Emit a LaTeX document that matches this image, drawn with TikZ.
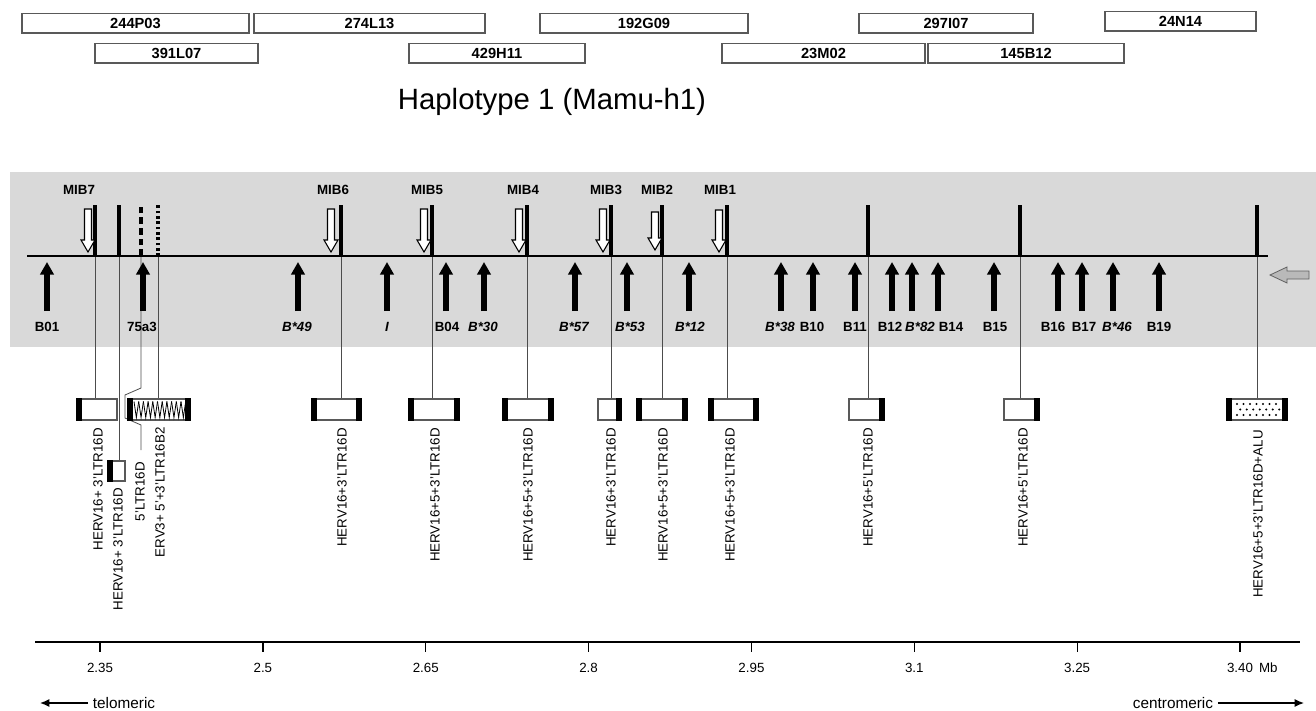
\documentclass[tikz,border=0pt]{standalone}
\usepackage{fontspec}
\setmainfont{Liberation Sans}
\usetikzlibrary{arrows.meta, positioning}
\tikzset{
    clone/.style={rectangle, draw=black!65, line width=1pt, fill=white, minimum height=14.5pt, inner sep=0pt, font=\fontsize{11}{13}\selectfont\bfseries},
    ervbox/.style={rectangle, draw=black!65, line width=0.8pt, fill=white, minimum height=15.75pt, inner sep=0pt},
    genearrow/.style={line width=4pt, -{Triangle[length=9.5pt, width=10pt]}},
    hervbar/.style={line width=2.4pt},
    link/.style={draw=black!70, line width=0.6pt},
    glabel/.style={font=\fontsize{10}{12}\selectfont\bfseries, inner sep=1pt},
    miblabel/.style={font=\fontsize{10}{12}\selectfont\bfseries, inner sep=1pt},
    ervlabel/.style={rotate=90, anchor=east, inner sep=0pt, font=\fontsize{10}{12}\selectfont},
    ticklabel/.style={font=\fontsize{10}{12}\selectfont},
}
\newcommand{\leftend}[1]{\fill (#1.north west) rectangle ([xshift=4pt]#1.south west);}
\newcommand{\rightend}[1]{\fill ([xshift=-4pt]#1.north east) rectangle (#1.south east);}
\newcommand{\hollowdown}[3]{\draw[line width=0.8pt, fill=white] (#1-3.5,#2) -- (#1+3.5,#2) -- (#1+3.5,#3-12) -- (#1+7,#3-12) -- (#1,#3) -- (#1-7,#3-12) -- (#1-3.5,#3-12) -- cycle;}

\begin{document}
\begin{tikzpicture}[x=0.75pt, y=-0.75pt]
    \useasboundingbox (0,0) rectangle (1316,710);

    % BAC clones
    \node[clone, minimum width=227*0.75pt] (c244) at (135.5,23.5) {244P03};
    \node[clone, minimum width=231*0.75pt] (c274) at (369.5,23.5) {274L13};
    \node[clone, minimum width=208*0.75pt] (c192) at (644,23.5) {192G09};
    \node[clone, minimum width=174*0.75pt] (c297) at (946,23.5) {297I07};
    \node[clone, minimum width=151*0.75pt] (c24) at (1180.5,21.5) {24N14};
    \node[clone, minimum width=163*0.75pt] (c391) at (176.5,53.5) {391L07};
    \node[clone, minimum width=176*0.75pt] (c429) at (497,53.5) {429H11};
    \node[clone, minimum width=203*0.75pt] (c23) at (823.5,53.5) {23M02};
    \node[clone, minimum width=196*0.75pt] (c145) at (1026,53.5) {145B12};

    \node[font=\fontsize{22}{26}\selectfont] (title) at (552,102) {Haplotype 1 (Mamu-h1)};

    \fill[gray!30] (10,172) rectangle (1316,347);

    % HERV positions on the map
    \foreach \x/\nm in {95/m7, 119/s1, 141/s2, 158/s3, 341/m6, 432/m5, 527/m4, 611/m3, 662/m2, 727/m1, 868/h1, 1020/h2, 1257/h3}
        \coordinate (bar-\nm) at (\x,256);

    % links down to the elements
    \draw[link] (bar-m7) -- (bar-m7 |- 0,399);
    \draw[link] (bar-s1) -- (bar-s1 |- 0,461);
    \coordinate (ltr5end) at (141,450);
    \draw[link] (bar-s2) -- (141,388) -- (125,395) -- (125,418) -- (141,425) -- (ltr5end);
    \foreach \nm in {s3, m6, m5, m4, m3, m2, m1, h1, h2, h3}
        \draw[link] (bar-\nm) -- (bar-\nm |- 0,399);

    \coordinate (chrL) at (27,256);
    \coordinate (chrR) at (1268,256);
    \draw[line width=2.2pt] (chrL) -- (chrR);

    \foreach \nm in {m7, s1, m6, m5, m4, m3, m2, m1, h1, h2, h3}
        \draw[hervbar] (bar-\nm) -- ++(0,-51);
    \draw[hervbar, dash pattern=on 5pt off 3pt] (bar-s2) -- ++(0,-51);
    \draw[hervbar, dash pattern=on 2pt off 2pt] (bar-s3) -- ++(0,-51);

    % MIB microsatellites
    \hollowdown{88}{209}{252}
    \hollowdown{331}{209}{252}
    \hollowdown{424}{209}{252}
    \hollowdown{519}{209}{252}
    \hollowdown{603}{209}{252}
    \hollowdown{655}{212}{250}
    \hollowdown{719}{210}{252}
    \node[miblabel] (mib7) at (79,190) {MIB7};
    \node[miblabel] (mib6) at (333,190) {MIB6};
    \node[miblabel] (mib5) at (427,190) {MIB5};
    \node[miblabel] (mib4) at (523,190) {MIB4};
    \node[miblabel] (mib3) at (606,190) {MIB3};
    \node[miblabel] (mib2) at (657,190) {MIB2};
    \node[miblabel] (mib1) at (720,190) {MIB1};

    % genes
    \foreach \x/\lx/\lab/\nm in {47/47/B01/b01, 143/142/75a3/a75, 298/297/{\itshape B*49}/b49, 387/387/{\itshape I}/bi,
            446/447/B04/b04, 484/483/{\itshape B*30}/b30, 575/574/{\itshape B*57}/b57, 627/630/{\itshape B*53}/b53,
            689/690/{\itshape B*12}/bs12, 781/780/{\itshape B*38}/b38, 813/812/B10/b10, 855/855/B11/b11,
            892/890/B12/b12, 912/920/{\itshape B*82}/b82, 938/951/B14/b14, 994/995/B15/b15,
            1058/1053/B16/b16, 1082/1084/B17/b17, 1113/1117/{\itshape B*46}/b46, 1159/1159/B19/b19} {
        \coordinate (tail-\nm) at (\x,311);
        \draw[genearrow] (tail-\nm) -- (\x,262);
        \node[glabel] (lab-\nm) at (\lx,327) {\lab};
    }

    % orientation
    \draw[fill=gray!55, draw=gray!75!black, line width=0.6pt] (1270,275) -- (1287,267) -- (1287,271) -- (1309,271)
        -- (1309,279) -- (1287,279) -- (1287,283) -- cycle;

    % elements
    \node[ervbox, minimum width=40*0.75pt] (e-m7) at (97,409.5) {}; \leftend{e-m7}
    \node[ervbox, minimum width=17*0.75pt, minimum height=15pt] (e-s1) at (116.5,471) {}; \leftend{e-s1}
    \node[ervbox, minimum width=62*0.75pt] (e-s3) at (159,409.5) {}; \leftend{e-s3} \rightend{e-s3}
    \foreach \i in {0,...,10}
        \draw[line width=0.6pt] (134+\i*4.7,401.5) -- (136.35+\i*4.7,417.5) -- (138.7+\i*4.7,401.5);
    \node[ervbox, minimum width=49*0.75pt] (e-m6) at (336.5,409.5) {}; \leftend{e-m6} \rightend{e-m6}
    \node[ervbox, minimum width=50*0.75pt] (e-m5) at (434,409.5) {}; \leftend{e-m5} \rightend{e-m5}
    \node[ervbox, minimum width=50*0.75pt] (e-m4) at (528,409.5) {}; \leftend{e-m4} \rightend{e-m4}
    \node[ervbox, minimum width=23*0.75pt] (e-m3) at (609.5,409.5) {}; \rightend{e-m3}
    \node[ervbox, minimum width=50*0.75pt] (e-m2) at (662,409.5) {}; \leftend{e-m2} \rightend{e-m2}
    \node[ervbox, minimum width=49*0.75pt] (e-m1) at (733.5,409.5) {}; \leftend{e-m1} \rightend{e-m1}
    \node[ervbox, minimum width=35*0.75pt] (e-h1) at (866.5,409.5) {}; \rightend{e-h1}
    \node[ervbox, minimum width=35*0.75pt] (e-h2) at (1021.5,409.5) {}; \rightend{e-h2}
    \node[ervbox, minimum width=60*0.75pt] (e-h3) at (1257,409.5) {}; \leftend{e-h3} \rightend{e-h3}
    \foreach \r in {0,1,2}
        \foreach \c in {0,...,6}
            \fill ({1237+\c*6.5+mod(\r,2)*3.2},{404+\r*5.5}) circle (0.8pt);

    \node[ervlabel] (t-m7) at (98,428) {HERV16+ 3'LTR16D};
    \node[ervlabel] (t-s1) at (118,488) {HERV16+ 3'LTR16D};
    \node[ervlabel] (t-s2) at (140,462) {5'LTR16D};
    \node[ervlabel] (t-s3) at (160,427) {ERV3+ 5'+3'LTR16B2};
    \node[ervlabel] (t-m6) at (342,428) {HERV16+3'LTR16D};
    \node[ervlabel] (t-m5) at (435,428) {HERV16+5+3'LTR16D};
    \node[ervlabel] (t-m4) at (528,428) {HERV16+5+3'LTR16D};
    \node[ervlabel] (t-m3) at (611,428) {HERV16+3'LTR16D};
    \node[ervlabel] (t-m2) at (663,428) {HERV16+5+3'LTR16D};
    \node[ervlabel] (t-m1) at (730,428) {HERV16+5+3'LTR16D};
    \node[ervlabel] (t-h1) at (868,428) {HERV16+5'LTR16D};
    \node[ervlabel] (t-h2) at (1023,428) {HERV16+5'LTR16D};
    \node[ervlabel] (t-h3) at (1258,430) {HERV16+5+3'LTR16D+ALU};

    % scale
    \coordinate (axL) at (35,642);
    \coordinate (axR) at (1300,642);
    \draw[line width=1.1pt] (axL) -- (axR);
    \foreach \v [count=\i from 0] in {2.35,2.5,2.65,2.8,2.95,3.1,3.25,3.40} {
        \draw[line width=1pt] (100+\i*162.86,642) -- ++(0,10);
        \node[ticklabel] (tick\i) at (100+\i*162.86,668) {\v};
    }
    \node[ticklabel, right=-2.5pt of tick7] (mb) {Mb};

    \node[font=\fontsize{11.5}{13}\selectfont] (telo) at (124,703) {telomeric};
    \coordinate (teloend) at (40,703);
    \draw[line width=1pt, -{Latex[length=7pt, width=6pt]}] (telo.west) -- (teloend);
    \node[font=\fontsize{11.5}{13}\selectfont] (centro) at (1173,703) {centromeric};
    \coordinate (centroend) at (1304,703);
    \draw[line width=1pt, -{Latex[length=7pt, width=6pt]}] (centro.east) -- (centroend);
\end{tikzpicture}
\end{document}
